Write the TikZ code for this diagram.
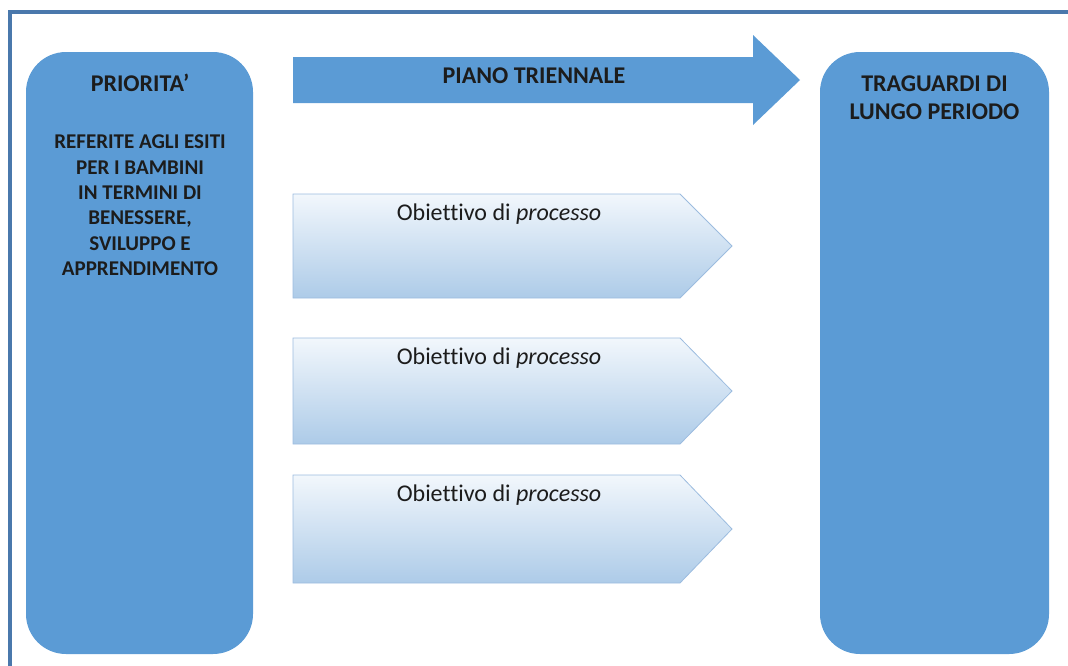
\documentclass[tikz,border=0pt]{standalone}
\usepackage{fontspec}
\setmainfont{Carlito}[Ligatures=NoCommon]
\definecolor{boxblue}{HTML}{5B9BD5}
\definecolor{framec}{HTML}{4A78AC}
\definecolor{chevtop}{HTML}{F2F7FC}
\definecolor{chevbot}{HTML}{ADCBE8}
\definecolor{chevline}{HTML}{9CBCDF}
\definecolor{txt}{HTML}{1C1C1C}
\begin{document}
\begin{tikzpicture}[x=1pt,y=-1pt,
  bigbox/.style={fill=boxblue, draw=none, rounded corners=40pt},
  chev/.style={top color=chevtop, bottom color=chevbot, draw=chevline, line width=0.8pt},
  headtxt/.style={text=txt, font=\fontsize{24}{28}\selectfont\bfseries, align=center, inner sep=0pt, anchor=base},
  bodytxt/.style={text=txt, font=\fontsize{21}{25.3}\selectfont\bfseries, align=center, inner sep=0pt},
  chevtxt/.style={text=txt, font=\fontsize{24}{28}\selectfont, inner sep=0pt, anchor=base}]
\useasboundingbox (0,0) rectangle (1068,665);
% frame
\draw[framec, line width=4pt] (10,680) -- (10,12) -- (1075,12);
% left and right boxes
\path[bigbox] (26,52) rectangle (253,654);
\path[bigbox] (820,52) rectangle (1049,654);
\node[headtxt] (prio) at (140,91) {PRIORITA’};
\node[bodytxt, anchor=north] (prioText) at (140,135) {REFERITE AGLI ESITI\\PER I BAMBINI\\IN TERMINI DI\\BENESSERE,\\SVILUPPO E\\APPRENDIMENTO};
\node[headtxt, anchor=north] (trag) at (934.5,76) {TRAGUARDI DI\\LUNGO PERIODO};
% big arrow
\path[fill=boxblue] (293,57) -- (753,57) -- (753,35) -- (800,80) -- (753,125) -- (753,103) -- (293,103) -- cycle;
\node[headtxt] (piano) at (534,83) {PIANO TRIENNALE};
% chevrons
\foreach \t/\b/\n in {194/298/1, 338/444/2, 475/583/3}{
  \path[chev] (293,\t) -- (680,\t) -- (732,{(\t+\b)/2}) -- (680,\b) -- (293,\b) -- cycle;
  \node[chevtxt] (obj\n) at (499,\t+26) {Obiettivo di \textit{processo}};
}
\end{tikzpicture}
\end{document}
